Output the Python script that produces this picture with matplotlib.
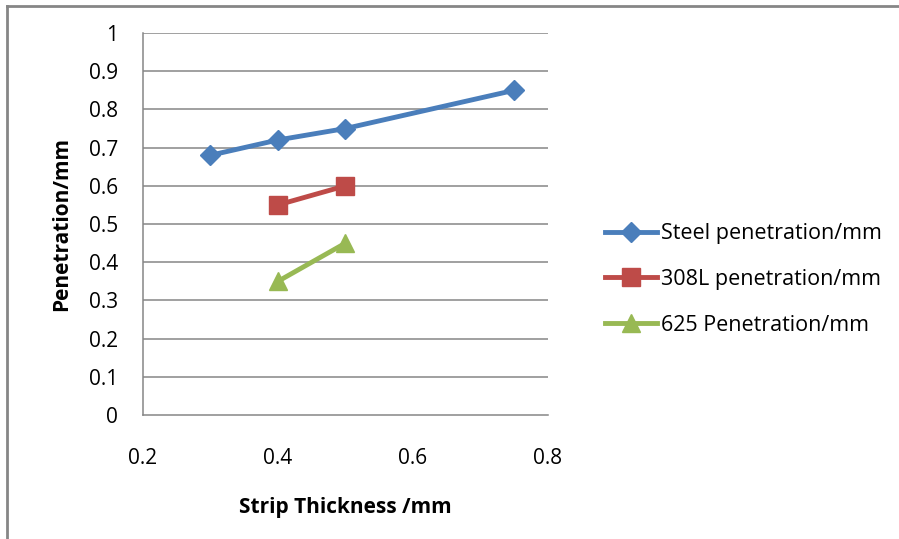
import matplotlib
matplotlib.use("Agg")
import matplotlib.pyplot as plt
from matplotlib.lines import Line2D

plt.rcParams['font.family'] = ['Open Sans', 'DejaVu Sans']

# strip thickness (mm) and measured penetration (mm)
steel_x = [0.3, 0.4, 0.5, 0.75]
steel_y = [0.68, 0.72, 0.75, 0.85]
l308_x = [0.4, 0.5]
l308_y = [0.55, 0.60]
a625_x = [0.4, 0.5]
a625_y = [0.35, 0.45]

x_ticks = [0.2, 0.4, 0.6, 0.8]
y_ticks = [0, 0.1, 0.2, 0.3, 0.4, 0.5, 0.6, 0.7, 0.8, 0.9, 1]
y_tick_labels = ['0', '0.1', '0.2', '0.3', '0.4', '0.5', '0.6', '0.7', '0.8', '0.9', '1']

blue = '#4A7EBB'
red = '#BE4B48'
green = '#98B954'
grid_c = '#868686'

fig = plt.figure(figsize=(8.99, 5.39), dpi=100)
ax = fig.add_axes([143 / 899, 1 - 415 / 539, (548 - 143) / 899, (415 - 33) / 539])

for v in y_ticks[1:]:
    ax.axhline(v, color=grid_c, lw=1.1, zorder=1)

ax.plot(steel_x, steel_y, color=blue, lw=3.5, marker='D', ms=10, zorder=3,
        label='Steel penetration/mm')
ax.plot(l308_x, l308_y, color=red, lw=3.5, marker='s', ms=13, zorder=3,
        label='308L penetration/mm')
ax.plot(a625_x, a625_y, color=green, lw=3.5, marker='^', ms=13, zorder=3,
        label='625 Penetration/mm')

ax.set_xlim(0.2, 0.8)
ax.set_ylim(0, 1)
ax.set_xticks(x_ticks)
ax.set_xticklabels(['0.2', '0.4', '0.6', '0.8'])
ax.set_yticks(y_ticks)
ax.set_yticklabels(y_tick_labels)
ax.tick_params(length=0, labelsize=15, colors='black', pad=0)
ax.tick_params(axis='y', pad=18)
ax.tick_params(axis='x', pad=24)

for s in ['top', 'right']:
    ax.spines[s].set_visible(False)
for s in ['left', 'bottom']:
    ax.spines[s].set_color(grid_c)
    ax.spines[s].set_linewidth(1.1)

ax.set_xlabel('Strip Thickness /mm', fontsize=15, fontweight='bold', labelpad=20)
ax.set_ylabel('Penetration/mm', fontsize=15, fontweight='bold', labelpad=12)

leg = ax.legend(loc='center left', bbox_to_anchor=(1.12, 0.355), frameon=False,
                fontsize=15.5, handlelength=2.4, handletextpad=0.2,
                labelspacing=1.15, borderaxespad=0)

# outer chart frame
fig.add_artist(Line2D([7 / 899, 1.0], [1 - 6 / 539, 1 - 6 / 539],
                      color=grid_c, lw=2, transform=fig.transFigure))
fig.add_artist(Line2D([7 / 899, 7 / 899], [0, 1 - 6 / 539],
                      color=grid_c, lw=2, transform=fig.transFigure))

fig.savefig('out.png', dpi=100, facecolor='white')
